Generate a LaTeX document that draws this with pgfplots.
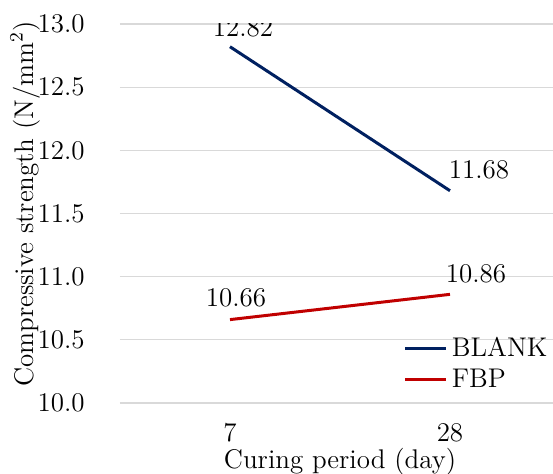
\documentclass[border=0pt]{standalone}
\usepackage{pgfplots}
\pgfplotsset{compat=1.18}
\definecolor{navy}{HTML}{002060}
\definecolor{dred}{HTML}{C00000}
\definecolor{gridg}{HTML}{D9D9D9}
\begin{document}
\begin{tikzpicture}
\fontsize{13}{15}\selectfont
\begin{axis}[
  name=ax,
  scale only axis,
  width=220pt, height=189.5pt,
  xmin=-0.5, xmax=1.5,
  ymin=10, ymax=13,
  xtick={0,1}, xticklabels={7,28},
  ytick={10,10.5,...,13},
  axis line style={draw=none},
  major tick length=0pt,
  ymajorgrids,
  grid style={gridg, line width=0.6pt},
  /pgf/number format/assume math mode=true,
  yticklabel style={/pgf/number format/fixed, /pgf/number format/fixed zerofill, /pgf/number format/precision=1},
  yticklabel style={anchor=east, inner sep=0pt, xshift=-17.5pt, font=\fontsize{13.5}{15}\selectfont},
  xticklabel style={anchor=center, inner sep=0pt, yshift=-15pt, font=\fontsize{13.5}{15}\selectfont},
  xlabel={Curing period (day)},
  ylabel={Compressive strength (N/mm\textsuperscript{2})},
  xlabel style={at={(axis description cs:0.5,-0.154)}, anchor=center, inner sep=0pt, font=\fontsize{13.5}{15}\selectfont},
  ylabel style={at={(axis description cs:-0.216,0.525)}, anchor=center, inner sep=0pt, font=\fontsize{13.5}{15}\selectfont},
  legend style={at={(rel axis cs:0.64,0.015)}, anchor=south west, draw=none, fill=none,
    font=\fontsize{13.5}{15}\selectfont, row sep=0pt, inner sep=1pt},
  legend cell align=left,
  legend image code/.code={\draw[#1, line width=1.5pt] (0pt,0pt) -- (20.5pt,0pt);},
]
\addplot[navy, line width=1.5pt] coordinates {(0,12.82) (1,11.68)};
\addlegendentry{BLANK}
\addplot[dred, line width=1.5pt] coordinates {(0,10.66) (1,10.86)};
\addlegendentry{FBP}
\node[font=\fontsize{13.5}{15}\selectfont] at (axis cs:0,12.82) [xshift=6.5pt, yshift=9.5pt] {12.82};
\node[font=\fontsize{13.5}{15}\selectfont] at (axis cs:1,11.68) [xshift=14.5pt, yshift=10.5pt] {11.68};
\node[font=\fontsize{13.5}{15}\selectfont] at (axis cs:0,10.66) [xshift=3pt, yshift=11pt] {10.66};
\node[font=\fontsize{13.5}{15}\selectfont] at (axis cs:1,10.86) [xshift=13pt, yshift=10.5pt] {10.86};
\end{axis}
\pgfresetboundingbox
\path[use as bounding box] ([xshift=-60pt, yshift=-35.5pt]ax.south west) rectangle ([xshift=216.5pt, yshift=12pt]ax.north west);
\end{tikzpicture}
\end{document}
